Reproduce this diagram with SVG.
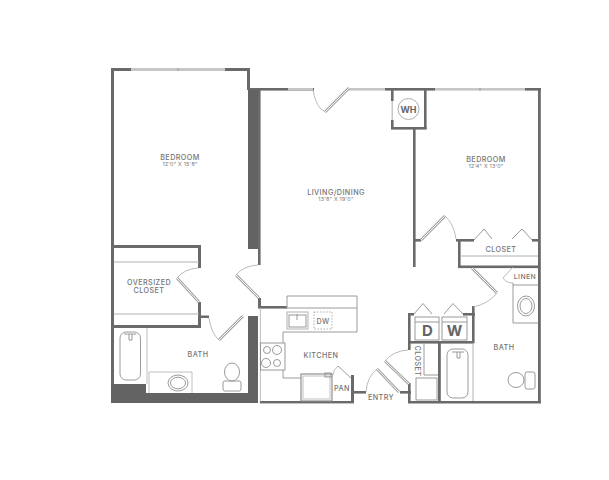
<svg xmlns="http://www.w3.org/2000/svg" width="609" height="480" viewBox="0 0 609 480">
<style>
.w{fill:#6a6a6a}
.d{fill:#636363}
.win{fill:#c6c6c6}
.t{fill:none;stroke:#8f8f8f;stroke-width:.9}
.h{fill:none;stroke:#b0b0b0;stroke-width:1}
.leaf{fill:none;stroke:#a0a0a0;stroke-width:2.6}
.leafi{fill:none;stroke:#fff;stroke-width:1}
.arc{fill:none;stroke:#aaa;stroke-width:.8}
text{font-family:"Inter","Liberation Sans",sans-serif;fill:#747474;text-anchor:middle}
.l{font-size:7.2px;letter-spacing:.45px;font-weight:500}
.s{font-size:5.4px;letter-spacing:.2px}
</style>
<g id="walls">
<rect class="w" x="111" y="68" width="3" height="335"/>
<rect class="w" x="111" y="68" width="139" height="3"/>
<rect class="w" x="247" y="68" width="3" height="22"/>
<rect class="w" x="248" y="88" width="66" height="2.600"/>
<rect class="d" x="248" y="90" width="10" height="159"/>
<rect class="w" x="258" y="90" width="2.600" height="175"/>
<rect class="win" x="131" y="68" width="94" height="3"/>
<line x1="178" y1="68" x2="178" y2="71" stroke="#999"/>
<rect class="win" x="288" y="88" width="25" height="2.600"/>
<rect class="win" x="349" y="88" width="36" height="2.600"/>
<rect class="w" x="114" y="245" width="87" height="3"/>
<rect class="w" x="198" y="245" width="3" height="23"/>
<rect class="w" x="198" y="302" width="3" height="26"/>
<rect class="w" x="114" y="325" width="87" height="3"/>
<rect class="w" x="201" y="315.500" width="8" height="2.500"/>
<rect class="d" x="248" y="316" width="10" height="87"/>
<rect class="w" x="258" y="298" width="3" height="10"/>
<rect class="w" x="258" y="306" width="29" height="2.600"/>
<rect class="d" x="111" y="384" width="35" height="19"/>
<rect class="d" x="111" y="393" width="147" height="10"/>
<rect class="w" x="260" y="401" width="94" height="2.400"/>
<rect class="win" x="259.800" y="308" width="1.200" height="93"/>
<rect class="w" x="351" y="375" width="3" height="28"/>
<rect class="w" x="354" y="391" width="12" height="2.600"/>
<rect class="w" x="400" y="391" width="11" height="2.600"/>
<rect class="w" x="408" y="383" width="2.600" height="20"/>
<rect class="w" x="408" y="314" width="2.600" height="36"/>
<rect class="w" x="408" y="401" width="133" height="2.500"/>
<rect class="w" x="385" y="88" width="50" height="2.600"/>
<rect class="win" x="435" y="88" width="90" height="2.600"/>
<line x1="480" y1="88" x2="480" y2="91" stroke="#999"/>
<rect class="w" x="525" y="88" width="16" height="2.600"/>
<rect class="w" x="538" y="88" width="2.800" height="315"/>
<rect class="w" x="391" y="88" width="2.600" height="13"/>
<rect class="win" x="391.500" y="101" width="1.500" height="19"/>
<rect class="w" x="391" y="120" width="2.600" height="9"/>
<rect class="w" x="424" y="88" width="2.600" height="41"/>
<rect class="w" x="391" y="127" width="35.600" height="2.600"/>
<rect class="w" x="413" y="129" width="2.600" height="138"/>
<rect class="w" x="415" y="239" width="6" height="2.600"/>
<rect class="w" x="456" y="239" width="18" height="2.600"/>
<rect class="w" x="532" y="239" width="8" height="2.600"/>
<rect class="w" x="458" y="239" width="2.600" height="29"/>
<rect class="w" x="458" y="265.500" width="82" height="2.600"/>
<rect class="w" x="408" y="313" width="6" height="2.600"/>
<rect class="w" x="463" y="313" width="12" height="2.600"/>
<rect class="w" x="472" y="306" width="2.600" height="37"/>
<rect class="w" x="408" y="341" width="66" height="2.600"/>
<rect class="w" x="438" y="341" width="2.800" height="62"/>
</g>
<g id="connectors">
<path class="arc" d="M198 268Q184 269 177 278"/>
<path class="leaf" d="M177 278L199 302"/><path class="leafi" d="M177 278L199 302"/>
<path class="arc" d="M209 318Q211 333 219 340"/>
<path class="leaf" d="M219 340L243 316"/><path class="leafi" d="M219 340L243 316"/>
<path class="arc" d="M258 265Q243 266 236 275"/>
<path class="leaf" d="M236 275L259 298"/><path class="leafi" d="M236 275L259 298"/>
<path class="arc" d="M313 90Q315 102 320 108L325 112"/>
<path class="leaf" d="M325 112L349 88"/><path class="leafi" d="M325 112L349 88"/>
<path class="arc" d="M366 392Q367 377 377 369"/>
<path class="leaf" d="M377 369L399 392"/><path class="leafi" d="M377 369L399 392"/>
<path class="arc" d="M408 350Q393 351 385 361"/>
<path class="leaf" d="M385 361L409 384"/><path class="leafi" d="M385 361L409 384"/>
<path class="arc" d="M333 375Q333 370 338 366"/>
<path class="t" d="M338 366L351 378"/>
<path class="leaf" d="M421 240L445 216"/><path class="leafi" d="M421 240L445 216"/>
<path class="arc" d="M445 216Q454 224 456 239"/>
<path class="leaf" d="M472 268L497 293"/><path class="leafi" d="M472 268L497 293"/>
<path class="arc" d="M497 293Q488 304 473 307"/>
<path class="arc" d="M513 267L503 278Q506 283 513 283"/>
<path class="t" d="M474 240L484 229L492 239M512 239L522 229L532 240"/>
<path class="t" d="M414 314L423 303.500L432 314M444 314L453 303.500L463 314"/>
</g>
<g id="fixtures">
<path class="h" d="M114 262H199M114 314H199"/>
<path class="h" style="stroke-width:.8" d="M147 328V384M149 393V372H192V393"/>
<rect class="t" x="120" y="332" width="20.500" height="48" rx="6"/>
<path class="t" d="M124 334H136M129 334V340H132V334"/>
<ellipse class="t" cx="178" cy="383" rx="10" ry="8"/>
<ellipse class="t" cx="178" cy="383" rx="7.500" ry="5.800"/>
<rect class="t" x="223" y="381" width="18" height="10" rx="2"/>
<ellipse class="t" cx="232" cy="372" rx="7.500" ry="9"/>
<path class="t" d="M287 308V296H357V332H283V343M283 370V378H301"/>
<path class="t" d="M287 308H357"/>
<rect class="h" x="287" y="312" width="21" height="17"/>
<rect class="t" x="289" y="315" width="17" height="12"/>
<path class="t" d="M297 314V320"/>
<rect x="314" y="312" width="18" height="17" fill="none" stroke="#999" stroke-width=".8" stroke-dasharray="1.500 1.500"/>
<rect class="t" x="260.500" y="343" width="24.500" height="27"/>
<circle class="t" cx="267" cy="350" r="3.500"/><circle class="t" cx="277" cy="350" r="4.500"/>
<circle class="t" cx="266" cy="363" r="4.500"/><circle class="t" cx="277" cy="363" r="3.500"/>
<rect class="t" x="301" y="374" width="31" height="27" style="stroke-width:1.200"/>
<rect class="t" x="303" y="376" width="27" height="23" style="stroke:#bbb"/>
<rect class="t" x="325" y="373" width="6" height="4"/>
<rect class="t" x="415" y="317" width="24" height="23"/>
<rect class="t" x="442" y="317" width="25" height="23"/>
<path class="t" d="M415 322H439M442 322H467"/>
<path class="t" d="M424 343V375H438"/>
<rect class="t" x="416" y="378" width="21" height="22"/>
<rect class="t" x="447" y="349" width="21" height="49" rx="6"/>
<path class="t" d="M452 352H464M457 352V358H460V352"/>
<path class="h" d="M473 343V401"/>
<path class="t" d="M513 283V323H538M513 285H538"/>
<ellipse class="t" cx="526" cy="306" rx="8.500" ry="10"/>
<ellipse class="t" cx="526" cy="306" rx="6" ry="7.500"/>
<rect class="t" x="525" y="372" width="10" height="17" rx="2"/>
<ellipse class="t" cx="516" cy="380" rx="8" ry="7.500"/>
<path class="h" d="M460 256H538"/>
<circle cx="408.500" cy="109" r="10.500" fill="#fff" stroke="#999" stroke-width=".8"/>
</g>
<g id="labels">
<text class="l" x="180" y="159.500">BEDROOM</text>
<text class="s" x="180" y="166">12'0" X 15'8"</text>
<text class="l" x="486" y="161.500">BEDROOM</text>
<text class="s" x="486" y="168">12'4" X 13'0"</text>
<text class="l" x="336" y="194.500">LIVING/DINING</text>
<text class="s" x="336" y="201">13'8" X 19'0"</text>
<text class="l" x="149" y="284.500">OVERSIZED</text>
<text class="l" x="149" y="293">CLOSET</text>
<text class="l" x="198" y="356.500">BATH</text>
<text class="l" x="321" y="357.500">KITCHEN</text>
<text class="l" x="342" y="390.500">PAN</text>
<text class="l" x="381" y="399.500">ENTRY</text>
<text class="l" x="323" y="323.500">DW</text>
<text class="l" x="501" y="251.500">CLOSET</text>
<text class="l" x="525" y="278.500" style="font-size:6.800px">LINEN</text>
<text class="l" x="504" y="349.500">BATH</text>
<text class="l" transform="translate(414.500 361) rotate(90)">CLOSET</text>
<text x="427.500" y="336" style="font-size:15px;font-weight:700;fill:#666">D</text>
<text x="454.500" y="336" style="font-size:15px;font-weight:700;fill:#666">W</text>
<text x="408.500" y="112.500" style="font-size:9px;font-weight:700;fill:#666">WH</text>
</g>
</svg>
